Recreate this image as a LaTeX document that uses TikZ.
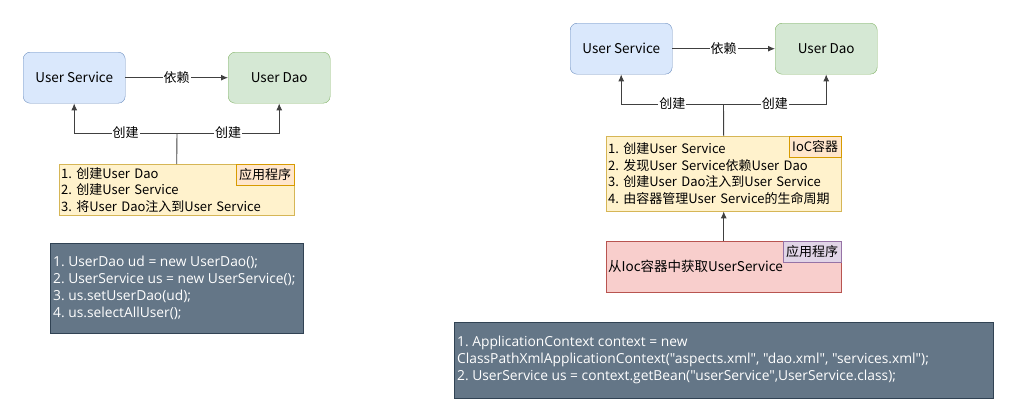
\documentclass[tikz,border=0pt]{standalone}
\usepackage{fontspec}
\setmainfont{Noto Sans CJK SC}
\newfontfamily\codefont{Open Sans}
\usetikzlibrary{positioning,arrows.meta}
\frenchspacing

\definecolor{bluefill}{HTML}{DAE8FC}
\definecolor{bluedraw}{HTML}{6C8EBF}
\definecolor{greenfill}{HTML}{D5E8D4}
\definecolor{greendraw}{HTML}{82B366}
\definecolor{yellowfill}{HTML}{FFF2CC}
\definecolor{yellowdraw}{HTML}{D6B656}
\definecolor{peachfill}{HTML}{FFE6CC}
\definecolor{peachdraw}{HTML}{D79B00}
\definecolor{redfill}{HTML}{F8CECC}
\definecolor{reddraw}{HTML}{B85450}
\definecolor{purplefill}{HTML}{E1D5E7}
\definecolor{purpledraw}{HTML}{9673A6}
\definecolor{slatefill}{HTML}{647687}
\definecolor{slatedraw}{HTML}{314354}

\tikzset{
  beanbox/.style={rectangle, rounded corners=7pt, minimum width=102pt, minimum height=51pt,
    anchor=north west, font=\fontsize{13.5}{16}\selectfont},
  svcbox/.style={beanbox, fill=bluefill, draw=bluedraw},
  daobox/.style={beanbox, fill=greenfill, draw=greendraw},
  stepsbox/.style={rectangle, anchor=north west, minimum width=235pt, text width=231pt,
    align=left, inner sep=2pt, font=\fontsize{13}{16.5}\selectfont},
  tagbox/.style={rectangle, anchor=north east, minimum height=21pt, inner xsep=3pt,
    font=\fontsize{13}{16}\selectfont},
  codebox/.style={rectangle, anchor=north west, fill=slatefill, draw=slatedraw},
  codetext/.style={anchor=west, text=white, align=left, inner sep=0pt, xshift=3pt,
    font=\codefont\fontsize{13.8}{17}\selectfont},
  link/.style={draw=black!75, line width=0.9pt},
  tip/.style={-{Latex[length=7pt,width=6pt]}},
  lbl/.style={fill=white, inner sep=1pt, font=\fontsize{13}{15}\selectfont}
}

\begin{document}
\begin{tikzpicture}[x=1pt,y=-1pt]
\useasboundingbox (0,0) rectangle (1018,416);

% ohne IoC
\node[svcbox] (usL) at (23,52) {User Service};
\node[daobox] (udL) at (228,52) {User Dao};
\draw[link,tip] (usL) -- node[lbl]{依赖} (udL);

\node[stepsbox, fill=yellowfill, draw=yellowdraw, minimum height=51pt] (appL) at (59,164)
  {1. 创建User Dao\\2. 创建User Service\\3. 将User Dao注入到User Service};
\node[tagbox, fill=peachfill, draw=peachdraw] (tagL) at (appL.north east) {应用程序};

\coordinate (jL) at (177,133);
\draw[link] (appL.north) -- (jL);
\draw[link,tip] (jL) -| node[lbl,pos=0.25]{创建} (usL.south);
\draw[link,tip] (jL) -| node[lbl,pos=0.25]{创建} (udL.south);

\node[codebox, minimum width=253pt, minimum height=90pt] (codeL) at (50,243) {};
\node[codetext] (codeLtext) at (codeL.west)
  {1. UserDao ud = new UserDao();\\2. UserService us = new UserService();\\3. us.setUserDao(ud);\\4. us.selectAllUser();};

% mit IoC
\node[svcbox] (usR) at (570,23) {User Service};
\node[daobox] (udR) at (775,23) {User Dao};
\draw[link,tip] (usR) -- node[lbl]{依赖} (udR);

\node[stepsbox, fill=yellowfill, draw=yellowdraw, minimum height=75pt] (iocR) at (606,136)
  {1. 创建User Service\\2. 发现User Service依赖User Dao\\3. 创建User Dao注入到User Service\\4. 由容器管理User Service的生命周期};
\node[tagbox, fill=peachfill, draw=peachdraw] (tagR) at (iocR.north east) {IoC容器};

\coordinate (jR) at (723.5,104);
\draw[link] (iocR.north) -- (jR);
\draw[link,tip] (jR) -| node[lbl,pos=0.25]{创建} (usR.south);
\draw[link,tip] (jR) -| node[lbl,pos=0.25]{创建} (udR.south);

\node[rectangle, anchor=north west, fill=redfill, draw=reddraw, minimum width=235pt, minimum height=51pt] (appR) at (606,241) {};
\node[anchor=west, inner sep=2pt, font=\fontsize{13.5}{16}\selectfont] (getR) at (appR.west) {从Ioc容器中获取UserService};
\node[tagbox, fill=purplefill, draw=purpledraw] (tagR2) at (appR.north east) {应用程序};
\draw[link,tip] (appR.north) -- (iocR.south);

\node[codebox, minimum width=539pt, minimum height=76pt] (codeR) at (454,322) {};
\node[codetext] (codeRtext) at (codeR.west)
  {1. ApplicationContext context = new\\ClassPathXmlApplicationContext("aspects.xml", "dao.xml", "services.xml");\\2. UserService us = context.getBean("userService",UserService.class);};
\end{tikzpicture}
\end{document}
